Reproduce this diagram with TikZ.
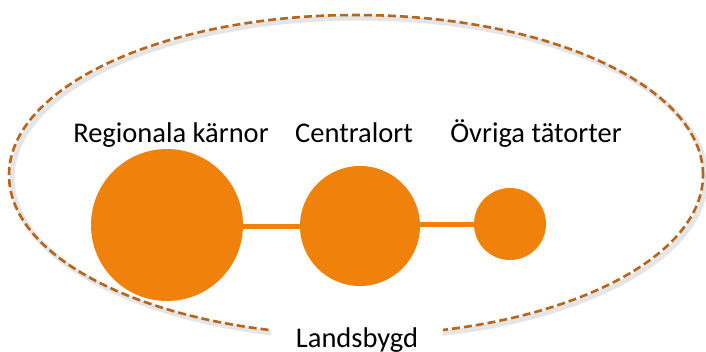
\documentclass[tikz,border=0pt]{standalone}
\usepackage{fontspec}
\setmainfont{Carlito}
\definecolor{dotorange}{RGB}{240,130,12}
\definecolor{dashbrown}{RGB}{184,100,26}
\begin{document}
\begin{tikzpicture}[x=1pt,y=-1pt,
  town/.style={circle,fill=dotorange,inner sep=0pt,draw=none},
  link/.style={draw=dotorange,line width=5pt},
  lbl/.style={font=\fontsize{28.5}{30}\selectfont,anchor=base,inner xsep=22pt,inner ysep=6pt,fill=white,text=black},
  boundary/.style={draw=dashbrown,line width=2.6pt,dash pattern=on 8pt off 4pt},
  shadowline/.style={draw=black!10,line width=5pt}]
\useasboundingbox (0,0) rectangle (706,351);
\fill[white] (0,0) rectangle (706,351);
% shadow and dashed boundary
\draw[shadowline] (359,178) ellipse [x radius=347pt, y radius=160pt];
\draw[boundary] (356,175) ellipse [x radius=347pt, y radius=160pt];
% labels
\node[lbl] (lrk) at (171,142) {Regionala kärnor};
\node[lbl,fill=none] (lco) at (354,142) {Centralort};
\node[lbl,fill=none] (lot) at (536,142) {Övriga tätorter};
\node[lbl,inner xsep=25pt] (lla) at (357,347) {Landsbygd};
% towns
\node[town,minimum size=152pt] (rk) at (167,225) {};
\node[town,minimum size=120pt] (co) at (360,226) {};
\node[town,minimum size=72pt] (ot) at (510,224) {};
\draw[link] ([xshift=2pt]co.west) -- ([xshift=-2pt]co.west -| rk.east);
\draw[link] ([xshift=2pt]ot.west) -- ([xshift=-2pt]ot.west -| co.east);
\end{tikzpicture}
\end{document}
